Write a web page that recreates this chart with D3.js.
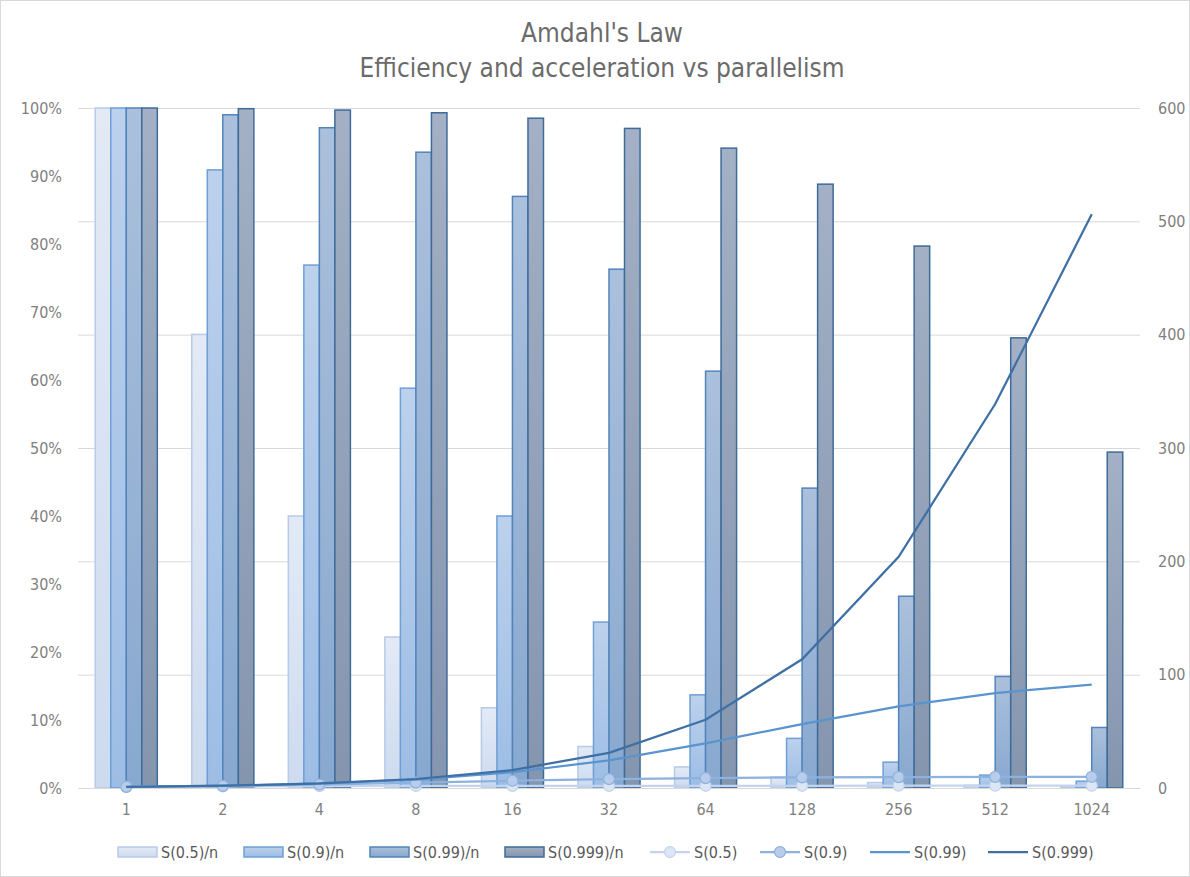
<!DOCTYPE html>
<html>
<head>
<meta charset="utf-8">
<script src="https://cdn.jsdelivr.net/npm/d3@7"></script>
<style>
  body { margin: 0; background: #fff; }
  text { font-family: "Liberation Sans Narrow", "DejaVu Sans Condensed", "Liberation Sans", sans-serif; }
</style>
</head>
<body>
<svg id="chart" width="1190" height="877"></svg>
<script>
// parallelism (number of processors)
let ns = ['1', '2', '4', '8', '16', '32', '64', '128', '256', '512', '1024'];

// efficiency S(p)/n
let eff05 = [1, 0.667, 0.4, 0.222, 0.118, 0.061, 0.031, 0.016, 0.008, 0.004, 0.002];
let eff09 = [1, 0.909, 0.769, 0.588, 0.4, 0.244, 0.137, 0.073, 0.038, 0.019, 0.01];
let eff099 = [1, 0.99, 0.971, 0.935, 0.87, 0.763, 0.613, 0.441, 0.282, 0.164, 0.089];
let eff0999 = [1, 0.999, 0.997, 0.993, 0.985, 0.97, 0.941, 0.888, 0.797, 0.662, 0.494];

// acceleration S(p), right axis
let sp05 = [1, 1.33, 1.6, 1.78, 1.88, 1.94, 1.97, 1.98, 1.99, 2.0, 2.0];
let sp09 = [1, 1.82, 3.08, 4.71, 6.4, 7.8, 8.77, 9.34, 9.66, 9.83, 9.91];
let sp099 = [1, 1.98, 3.88, 7.48, 13.9, 24.4, 39.3, 56.4, 72.1, 83.8, 91.2];
let sp0999 = [1, 2.0, 3.99, 7.94, 15.8, 31.0, 60.2, 113.6, 204, 338.8, 506.2];

let leftTicks = [0, 0.1, 0.2, 0.3, 0.4, 0.5, 0.6, 0.7, 0.8, 0.9, 1];
let rightTicks = [0, 100, 200, 300, 400, 500, 600];

let barSeries = [
  {name: 'S(0.5)/n', values: eff05, top: '#e3eaf6', bottom: '#cddbef', stroke: '#b7cae8'},
  {name: 'S(0.9)/n', values: eff09, top: '#bcd1ec', bottom: '#9dbde5', stroke: '#6e9fd6'},
  {name: 'S(0.99)/n', values: eff099, top: '#abc0dc', bottom: '#88a8cf', stroke: '#5284bb'},
  {name: 'S(0.999)/n', values: eff0999, top: '#a3b0c5', bottom: '#8495ae', stroke: '#3e6b98'}
];
let lineSeries = [
  {name: 'S(0.5)', values: sp05, color: '#c3d4ec', marker: true, mfill: '#dce6f4'},
  {name: 'S(0.9)', values: sp09, color: '#8db2de', marker: true, mfill: '#b9cdea'},
  {name: 'S(0.99)', values: sp099, color: '#5a94cf', marker: false},
  {name: 'S(0.999)', values: sp0999, color: '#3f70a5', marker: false}
];

let svg = d3.select('#chart');
let plotLeft = 78, plotRight = 1140, plotTop = 108, plotBottom = 788;

svg.append('rect').attr('x', 0.5).attr('y', 0.5).attr('width', 1189).attr('height', 876)
  .attr('fill', '#fff').attr('stroke', '#d9d9d9');

let defs = svg.append('defs');
barSeries.forEach((s, i) => {
  let g = defs.append('linearGradient').attr('id', 'grad' + i)
    .attr('x1', 0).attr('y1', 0).attr('x2', 0).attr('y2', 1);
  g.append('stop').attr('offset', '0%').attr('stop-color', s.top);
  g.append('stop').attr('offset', '100%').attr('stop-color', s.bottom);
});

let xScale = d3.scaleBand().domain(ns).range([plotLeft, plotRight]).paddingInner(0.357).paddingOuter(0.1785);
let xSub = d3.scaleBand().domain(barSeries.map(d => d.name)).range([0, xScale.bandwidth()]);
let yLeft = d3.scaleLinear().domain([0, 1]).range([plotBottom, plotTop]);
let yRight = d3.scaleLinear().domain([0, 600]).range([plotBottom, plotTop]);

// gridlines follow the right axis
let yGrid = d3.axisRight(yRight).tickValues(rightTicks).tickSize(plotRight - plotLeft).tickFormat('');
let gridG = svg.append('g').attr('transform', `translate(${plotLeft},0)`).call(yGrid);
gridG.select('.domain').remove();
gridG.selectAll('line').attr('stroke', '#d9d9d9').attr('stroke-width', 1);

// title
svg.append('text').attr('x', 602).attr('y', 42).attr('text-anchor', 'middle')
  .attr('font-size', 26).attr('fill', '#6b6b6b').text("Amdahl's Law");
svg.append('text').attr('x', 602).attr('y', 77).attr('text-anchor', 'middle')
  .attr('font-size', 26).attr('fill', '#6b6b6b').text('Efficiency and acceleration vs parallelism');

// left axis
let yAxisL = d3.axisLeft(yLeft).tickValues(leftTicks).tickSize(0).tickPadding(16).tickFormat(d3.format('.0%'));
let gL = svg.append('g').attr('transform', `translate(${plotLeft},0)`).call(yAxisL);
gL.select('.domain').remove();
gL.selectAll('text').attr('font-size', 16).attr('fill', '#7f7f7f');

// right axis
let yAxisR = d3.axisRight(yRight).tickValues(rightTicks).tickSize(0).tickPadding(18);
let gR = svg.append('g').attr('transform', `translate(${plotRight},0)`).call(yAxisR);
gR.select('.domain').remove();
gR.selectAll('text').attr('font-size', 16).attr('fill', '#7f7f7f');

// bars
barSeries.forEach((s, i) => {
  svg.append('g').selectAll('rect')
    .data(s.values)
    .enter()
    .append('rect')
    .attr('x', (d, j) => xScale(ns[j]) + xSub(s.name))
    .attr('width', xSub.bandwidth())
    .attr('y', d => yLeft(d))
    .attr('height', d => plotBottom - yLeft(d))
    .attr('fill', `url(#grad${i})`)
    .attr('stroke', s.stroke)
    .attr('stroke-width', 1.5);
});

// bottom axis
let xAxis = d3.axisBottom(xScale).tickSize(0).tickPadding(16);
let gX = svg.append('g').attr('transform', `translate(0,${plotBottom})`).call(xAxis);
gX.select('.domain').attr('stroke', '#d9d9d9').attr('stroke-width', 1);
gX.selectAll('text').attr('font-size', 16).attr('fill', '#7f7f7f');

// lines
let cx = (d, j) => xScale(ns[j]) + xScale.bandwidth() / 2;
lineSeries.forEach(s => {
  let line = d3.line().x(cx).y(d => yRight(d));
  svg.append('path').datum(s.values)
    .attr('d', line)
    .attr('fill', 'none')
    .attr('stroke', s.color)
    .attr('stroke-width', 2.25);
  if (s.marker) {
    svg.append('g').selectAll('circle')
      .data(s.values)
      .enter()
      .append('circle')
      .attr('cx', cx)
      .attr('cy', d => yRight(d))
      .attr('r', 5.5)
      .attr('fill', s.mfill)
      .attr('stroke', s.color)
      .attr('stroke-width', 1.25);
  }
});

// legend
let legY = 852;
let barLegX = [118, 244, 370, 505];
barSeries.forEach((s, i) => {
  let g = svg.append('g').attr('transform', `translate(${barLegX[i]},${legY})`);
  g.append('rect').attr('x', 0).attr('y', -5).attr('width', 39).attr('height', 10)
    .attr('fill', `url(#grad${i})`).attr('stroke', s.stroke).attr('stroke-width', 1.5);
  g.append('text').attr('x', 43).attr('y', 6).attr('font-size', 16).attr('fill', '#595959').text(s.name);
});
let lineLegX = [650, 760, 870, 988];
lineSeries.forEach((s, i) => {
  let g = svg.append('g').attr('transform', `translate(${lineLegX[i]},${legY})`);
  g.append('line').attr('x1', 0).attr('x2', 40).attr('y1', 0).attr('y2', 0)
    .attr('stroke', s.color).attr('stroke-width', 2.25);
  if (s.marker) {
    g.append('circle').attr('cx', 20).attr('cy', 0).attr('r', 5.5)
      .attr('fill', s.mfill).attr('stroke', s.color).attr('stroke-width', 1.25);
  }
  g.append('text').attr('x', 44).attr('y', 6).attr('font-size', 16).attr('fill', '#595959').text(s.name);
});
</script>
</body>
</html>
